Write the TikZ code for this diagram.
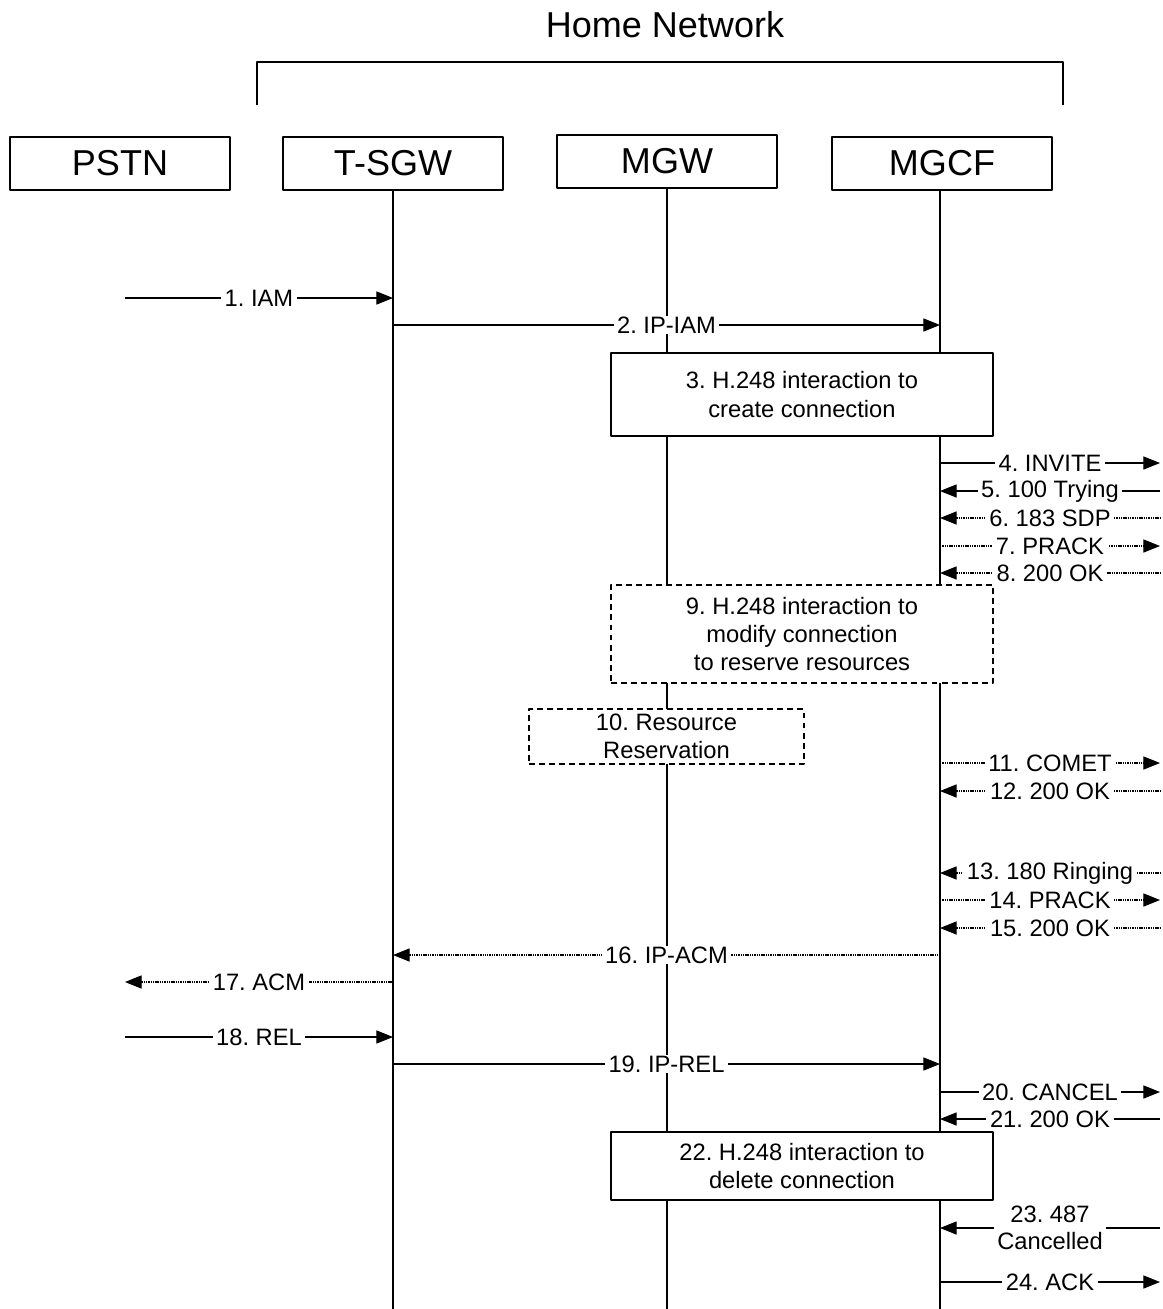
\documentclass[tikz,border=0pt]{standalone}
\usepackage{fontspec}
\setmainfont{Liberation Sans}
\usetikzlibrary{arrows.meta}
\frenchspacing
\begin{document}
\begin{tikzpicture}[x=0.02cm,y=-0.02cm,>={Triangle[length=9.5pt,width=7.5pt]},
  line join=round,
  ent/.style={draw,line width=1.1pt,minimum width=4.4cm,minimum height=1.06cm,inner sep=0pt,font=\fontsize{20.5}{24}\selectfont},
  life/.style={line width=1.1pt},
  msg/.style={line width=0.6pt},
  dmsg/.style={line width=0.6pt,dash pattern=on 0.8pt off 0.5pt},
  lbl/.style={fill=white,inner xsep=2pt,inner ysep=0.5pt,font=\fontsize{13.5}{15.5}\selectfont,align=center},
  act/.style={draw,fill=white,line width=1.1pt,align=center,inner sep=0pt,font=\fontsize{13.5}{16}\selectfont},
  dact/.style={act,dash pattern=on 3.4pt off 2.3pt}]
  \useasboundingbox (0,0) rectangle (1163,1309);
  \def\yend{1309}
  % Home Network
  \node[font=\fontsize{20.5}{24}\selectfont] (home) at (665,25) {Home Network};
  \draw[line width=1.1pt] (257,105) -- (257,62) -- (1063,62) -- (1063,105);
  \node[ent] (pstn) at (120,163.5) {PSTN};
  \node[ent] (tsgw) at (393,163.5) {T-SGW};
  \node[ent] (mgw) at (667,161.5) {MGW};
  \node[ent] (mgcf) at (942,163.5) {MGCF};
  \coordinate (tsgwE) at (393,\yend);
  \coordinate (mgwE) at (667,\yend);
  \coordinate (mgcfE) at (940,\yend);
  \draw[life] (tsgw.south) -- (tsgwE);
  \draw[life] (mgw.south) -- (mgwE);
  \draw[life] (mgcf.south -| mgcfE) -- (mgcfE);
  \coordinate (pL) at (125,0);
  \coordinate (ext) at (1160,0);
  % messages
  \draw[msg,->] (pL |- 0,298) -- node[lbl] (m1) {1. IAM} (tsgwE |- 0,298);
  \draw[msg,->] (tsgwE |- 0,325) -- node[lbl] (m2) {2. IP-IAM} (mgcfE |- 0,325);
  \node[act,minimum width=7.64cm,minimum height=1.66cm] (h3) at (802,394.5) {3. H.248 interaction to\\create connection};
  \draw[msg,->] (mgcfE |- 0,463) -- node[lbl] (m4) {4. INVITE} (ext |- 0,463);
  \draw[msg,<-] (mgcfE |- 0,491) -- node[lbl] (m5) {5. 100 Trying} (ext |- 0,491);
  \draw[dmsg,<-] (mgcfE |- 0,518) -- node[lbl] (m6) {6. 183 SDP} (ext |- 0,518);
  \draw[dmsg,->] (mgcfE |- 0,546) -- node[lbl] (m7) {7. PRACK} (ext |- 0,546);
  \draw[dmsg,<-] (mgcfE |- 0,573) -- node[lbl] (m8) {8. 200 OK} (ext |- 0,573);
  \node[dact,minimum width=7.64cm,minimum height=1.96cm] (h9) at (802,634) {9. H.248 interaction to\\modify connection\\to reserve resources};
  \node[dact,minimum width=5.5cm,minimum height=1.1cm] (rr) at (666.5,736.5) {10. Resource\\Reservation};
  \draw[dmsg,->] (mgcfE |- 0,763) -- node[lbl] (m11) {11. COMET} (ext |- 0,763);
  \draw[dmsg,<-] (mgcfE |- 0,791) -- node[lbl] (m12) {12. 200 OK} (ext |- 0,791);
  \draw[dmsg,<-] (mgcfE |- 0,873) -- node[lbl] (m13) {13. 180 Ringing} (ext |- 0,873);
  \draw[dmsg,->] (mgcfE |- 0,900) -- node[lbl] (m14) {14. PRACK} (ext |- 0,900);
  \draw[dmsg,<-] (mgcfE |- 0,928) -- node[lbl] (m15) {15. 200 OK} (ext |- 0,928);
  \draw[dmsg,<-] (tsgwE |- 0,955) -- node[lbl] (m16) {16. IP-ACM} (mgcfE |- 0,955);
  \draw[dmsg,<-] (pL |- 0,982) -- node[lbl] (m17) {17. ACM} (tsgwE |- 0,982);
  \draw[msg,->] (pL |- 0,1037) -- node[lbl] (m18) {18. REL} (tsgwE |- 0,1037);
  \draw[msg,->] (tsgwE |- 0,1064) -- node[lbl] (m19) {19. IP-REL} (mgcfE |- 0,1064);
  \draw[msg,->] (mgcfE |- 0,1092) -- node[lbl] (m20) {20. CANCEL} (ext |- 0,1092);
  \draw[msg,<-] (mgcfE |- 0,1119) -- node[lbl] (m21) {21. 200 OK} (ext |- 0,1119);
  \node[act,minimum width=7.64cm,minimum height=1.36cm] (h22) at (802,1166) {22. H.248 interaction to\\delete connection};
  \draw[msg,<-] (mgcfE |- 0,1228) -- node[lbl] (m23) {23. 487\\Cancelled} (ext |- 0,1228);
  \draw[msg,->] (mgcfE |- 0,1282) -- node[lbl] (m24) {24. ACK} (ext |- 0,1282);
\end{tikzpicture}
\end{document}
